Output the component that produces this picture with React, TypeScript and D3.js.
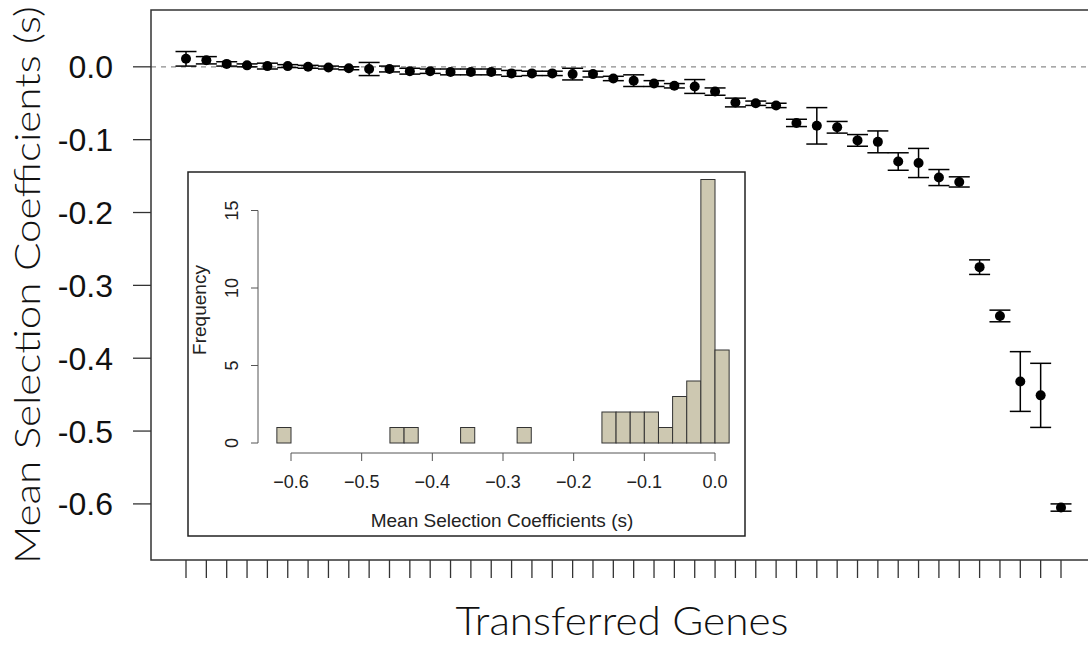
import React from "react";
import * as d3 from "d3";

// ---- Data ----
const geneMeans: number[] = [
  0.011, 0.009, 0.004, 0.002, 0.001, 0.001, 0.0, -0.001, -0.002, -0.003,
  -0.003, -0.006, -0.006, -0.007, -0.007, -0.007, -0.009, -0.009, -0.009, -0.01,
  -0.01, -0.016, -0.019, -0.023, -0.026, -0.027, -0.034, -0.049, -0.05, -0.053,
  -0.077, -0.081, -0.083, -0.101, -0.103, -0.13, -0.132, -0.152, -0.158, -0.275,
  -0.342, -0.432, -0.451, -0.605,
];
const geneErrors: number[] = [
  0.01, 0.005, 0.003, 0.002, 0.004, 0.002, 0.002, 0.002, 0.002, 0.009,
  0.004, 0.004, 0.003, 0.004, 0.004, 0.004, 0.004, 0.003, 0.003, 0.008,
  0.004, 0.003, 0.008, 0.004, 0.003, 0.0095, 0.005, 0.006, 0.003, 0.003,
  0.005, 0.025, 0.008, 0.008, 0.015, 0.012, 0.02, 0.011, 0.007, 0.01,
  0.008, 0.041, 0.044, 0.005,
];
const yTicks: number[] = [0, -0.1, -0.2, -0.3, -0.4, -0.5, -0.6];

// Inset histogram: bins of width 0.02 starting at -0.62
const histBinStart = -0.62;
const histBinWidth = 0.02;
const histCounts: number[] = [
  1, 0, 0, 0, 0, 0, 0, 0, 1, 1, 0, 0, 0, 1, 0, 0,
  0, 1, 0, 0, 0, 0, 0, 2, 2, 2, 2, 1, 3, 4, 17, 6,
];
const histXTicks: number[] = [-0.6, -0.5, -0.4, -0.3, -0.2, -0.1, 0.0];
const histYTicks: number[] = [0, 5, 10, 15];

const W = 1088;
const H = 645;

export default function App() {
  // main scales
  const n = geneMeans.length;
  const x = d3.scaleLinear().domain([1 - 0.04 * (n - 1), n + 0.04 * (n - 1)]).range([151, 1096]);
  const y = d3.scaleLinear().domain([-0.677, 0.078]).range([560, 10]);
  const idx = d3.range(n);

  // inset scales
  const hx = d3.scaleLinear().domain([-0.6, 0]).range([291, 715]);
  const hy = d3.scaleLinear().domain([0, 15]).range([443, 443 - 15 * 15.5]);

  const fmt = (v: number) => (Math.abs(v) < 1e-9 ? "0.0" : "-" + d3.format(".1f")(Math.abs(v)));
  const fmtH = (v: number) => (Math.abs(v) < 1e-9 ? "0.0" : "\u2212" + d3.format(".1f")(Math.abs(v)));

  const titleFont = "Lato, 'Open Sans', sans-serif";
  const numFont = "'Liberation Sans', Arial, sans-serif";

  return (
    <div style={{ position: "absolute", left: 0, top: 0 }}>
      <svg width={W} height={H} viewBox={`0 0 ${W} ${H}`} style={{ display: "block", background: "#fff" }}>
        {/* dashed zero line */}
        <line x1={151} x2={1096} y1={y(0)} y2={y(0)} stroke="#8c8c8c" strokeWidth={1.2} strokeDasharray="5,5" />

        {/* error bars and points */}
        {idx.map((i) => {
          const cx = x(i + 1);
          const m = geneMeans[i];
          const e = geneErrors[i];
          const yt = y(m + e);
          const yb = y(m - e);
          return (
            <g key={i} stroke="#000" strokeWidth={1.5}>
              <line x1={cx} x2={cx} y1={yt} y2={yb} />
              <line x1={cx - 10.5} x2={cx + 10.5} y1={yt} y2={yt} />
              <line x1={cx - 10.5} x2={cx + 10.5} y1={yb} y2={yb} />
              <circle cx={cx} cy={y(m)} r={5} fill="#000" stroke="none" />
            </g>
          );
        })}

        {/* plot box */}
        <rect x={151} y={10} width={1096 - 151} height={550} fill="none" stroke="#333" strokeWidth={1.5} />

        {/* y axis ticks & labels */}
        {yTicks.map((t) => (
          <g key={t}>
            <line x1={133} x2={151} y1={y(t)} y2={y(t)} stroke="#333" strokeWidth={1.3} />
            <text x={113} y={y(t) + 11.5} textAnchor="end" fontFamily={numFont} fontSize={32} fill="#111">
              {fmt(t)}
            </text>
          </g>
        ))}

        {/* x axis ticks (no labels) */}
        {idx.map((i) => (
          <line key={i} x1={x(i + 1)} x2={x(i + 1)} y1={560} y2={578} stroke="#333" strokeWidth={1.3} />
        ))}

        {/* axis titles */}
        <text
          transform={`translate(40,285) rotate(-90)`}
          textAnchor="middle"
          fontFamily={titleFont}
          fontSize={35}
          fontWeight={300}
          textLength={558}
          lengthAdjust="spacingAndGlyphs"
          fill="#111"
        >
          Mean Selection Coefficients (s)
        </text>
        <text
          x={622}
          y={635}
          textAnchor="middle"
          fontFamily={titleFont}
          fontSize={40}
          fontWeight={300}
          textLength={333}
          lengthAdjust="spacingAndGlyphs"
          fill="#111"
        >
          Transferred Genes
        </text>

        {/* ---- Inset histogram ---- */}
        <rect x={188} y={172} width={745 - 188} height={536 - 172} fill="#fff" stroke="#222" strokeWidth={1.5} />
        {histCounts.map((c, i) => {
          const x0 = hx(histBinStart + i * histBinWidth);
          const x1 = hx(histBinStart + (i + 1) * histBinWidth);
          return (
            <rect
              key={i}
              x={x0}
              y={hy(c)}
              width={x1 - x0}
              height={hy(0) - hy(c)}
              fill="#CDC8B1"
              stroke="#333"
              strokeWidth={1}
            />
          );
        })}
        {/* inset y axis */}
        <line x1={258} x2={258} y1={hy(0)} y2={hy(15)} stroke="#555" strokeWidth={1} />
        {histYTicks.map((t) => (
          <g key={t}>
            <line x1={251} x2={258} y1={hy(t)} y2={hy(t)} stroke="#555" strokeWidth={1} />
            <text
              transform={`translate(238,${hy(t)}) rotate(-90)`}
              textAnchor="middle"
              fontFamily={numFont}
              fontSize={18}
              fill="#222"
            >
              {t}
            </text>
          </g>
        ))}
        {/* inset x axis */}
        <line x1={hx(-0.6)} x2={hx(0)} y1={453} y2={453} stroke="#555" strokeWidth={1} />
        {histXTicks.map((t) => (
          <g key={t}>
            <line x1={hx(t)} x2={hx(t)} y1={453} y2={461} stroke="#555" strokeWidth={1} />
            <text x={hx(t)} y={488} textAnchor="middle" fontFamily={numFont} fontSize={18} fill="#222">
              {fmtH(t)}
            </text>
          </g>
        ))}
        <text x={502} y={527} textAnchor="middle" fontFamily={numFont} fontSize={19} fill="#222">
          Mean Selection Coefficients (s)
        </text>
        <text
          transform={`translate(206,310) rotate(-90)`}
          textAnchor="middle"
          fontFamily={numFont}
          fontSize={19}
          fill="#222"
        >
          Frequency
        </text>
      </svg>
    </div>
  );
}
